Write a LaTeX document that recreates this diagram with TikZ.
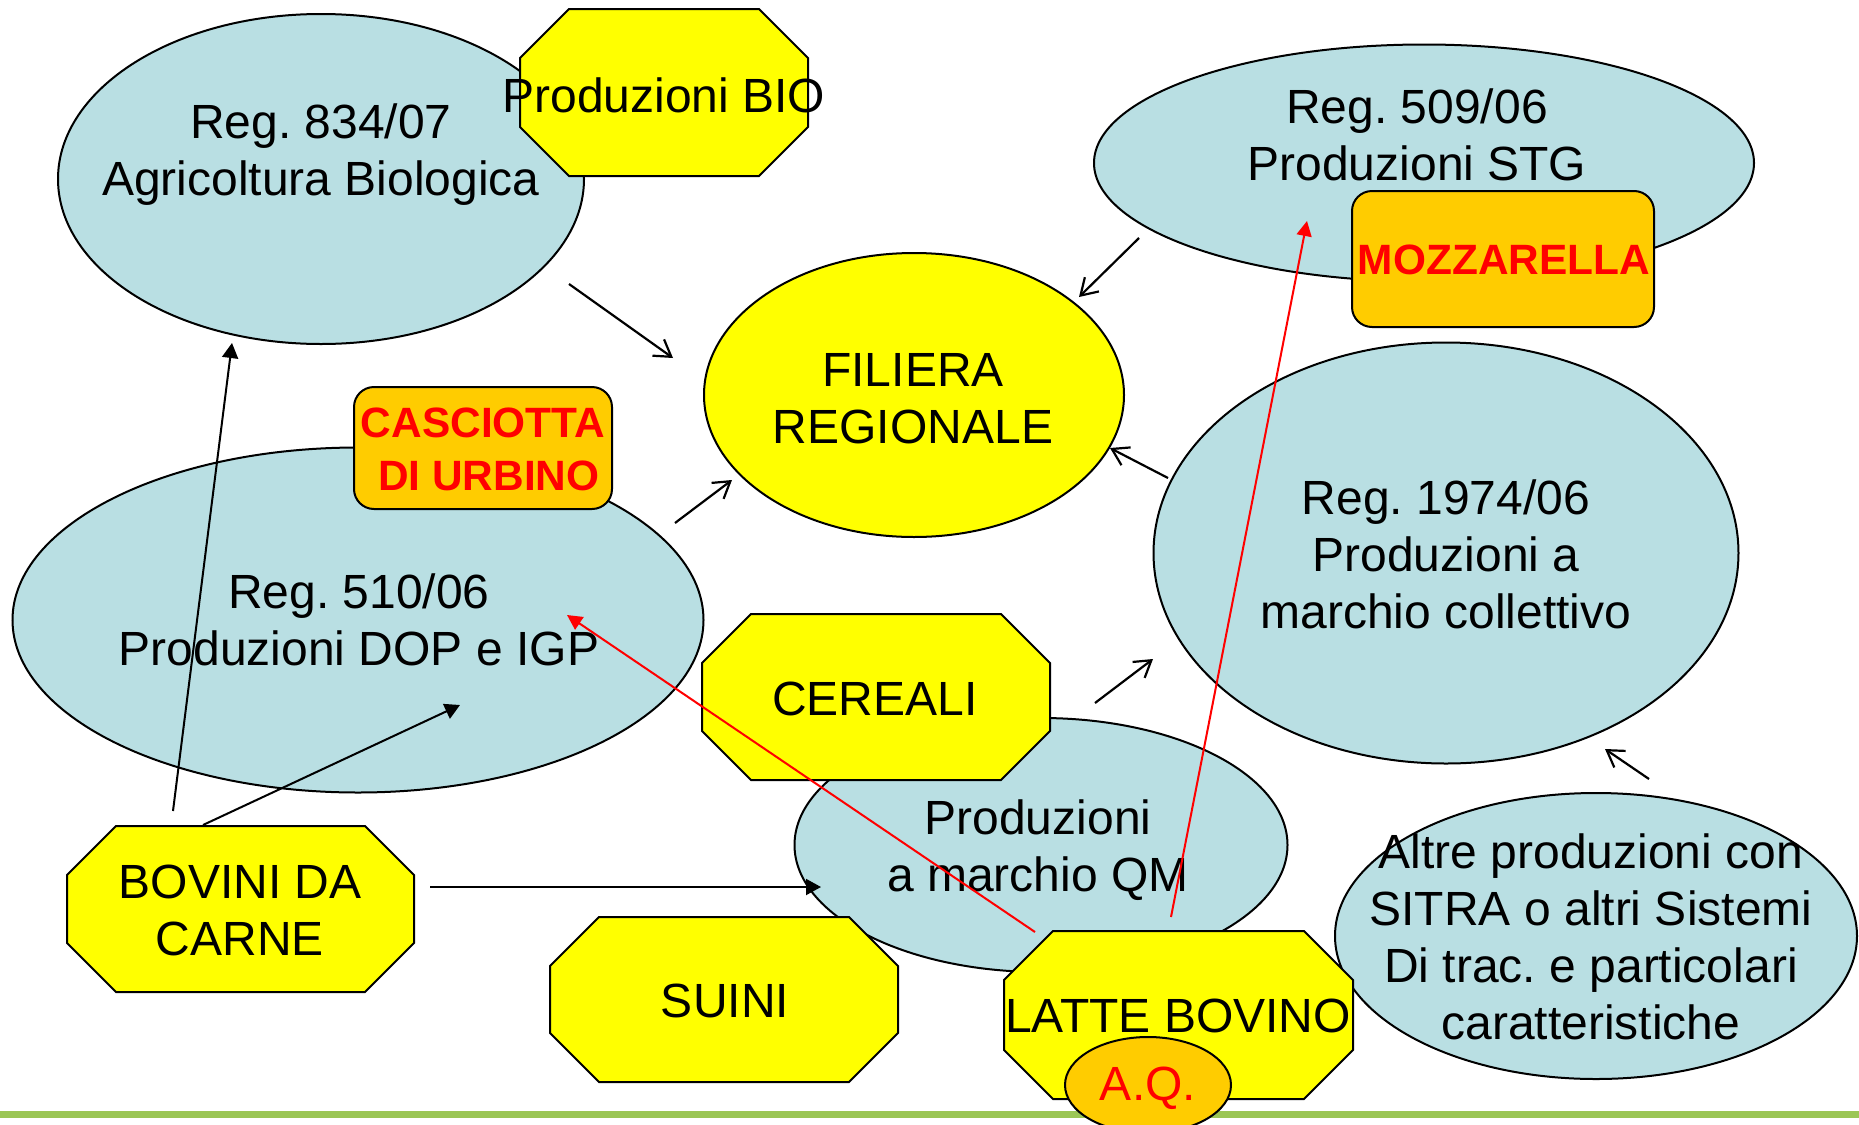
\documentclass[tikz,border=0pt]{standalone}
\usepackage{fontspec}
\setmainfont{Liberation Sans}
\frenchspacing
\usetikzlibrary{shapes.geometric,arrows.meta}
\definecolor{lblue}{RGB}{185,223,227}
\definecolor{yel}{RGB}{255,255,0}
\definecolor{orng}{RGB}{255,204,0}
\definecolor{gline}{RGB}{155,198,85}
\begin{document}
\begin{tikzpicture}[x=0.5pt,y=-0.5pt,
 blueell/.style={ellipse, draw=black, fill=lblue, line width=1pt, inner sep=0pt},
 octo/.style={draw=black, fill=yel, line width=1pt},
 cheese/.style={draw=black, fill=orng, line width=1pt, rounded corners=10pt, inner sep=0pt},
 txt/.style={font=\fontsize{24pt}{28.5pt}\selectfont\frenchspacing, align=center, anchor=base, inner sep=0pt},
 redtxt/.style={font=\fontsize{21.2pt}{26.5pt}\selectfont\bfseries, text=red, align=center, anchor=base, inner sep=0pt},
 openarrow/.style={-{Straight Barb[length=8pt,width=10pt]}, line width=1.1pt},
 fillarrow/.style={-{Triangle[length=7.5pt,width=8pt]}, line width=1pt},
 redarrow/.style={-{Triangle[length=7.5pt,width=7.5pt]}, draw=red, line width=1pt}
]
\useasboundingbox (0,0) rectangle (1859,1125);
% bottom rule
\coordinate (gl) at (0,1114);
\coordinate (gr) at (1859,1114);
\draw[gline, line width=3.5pt] (gl) -- (gr);

% Reg 834/07
\node[blueell, minimum width=263pt, minimum height=165pt] (bio) at (321,179) {};
\node[txt] (biot) at (321,195) {Reg. 834/07\\Agricoltura Biologica};
\draw[octo] (569,9) -- (759,9) -- (808,58) -- (808,127) -- (759,176) -- (569,176) -- (520,127) -- (520,58) -- cycle;
\node[txt] (prodbio) at (664,112) {Produzioni BIO};

% Reg 510/06
\node[blueell, minimum width=345.5pt, minimum height=172.5pt] (dop) at (358,620) {};
\node[txt] (dopt) at (359,665) {Reg. 510/06\\Produzioni DOP e IGP};
\node[cheese, minimum width=129pt, minimum height=61pt] (casc) at (483,448) {};
\node[redtxt] (casct) at (483,490) {CASCIOTTA\\\ DI URBINO};

% Filiera
\node[ellipse, draw=black, fill=yel, line width=1pt, inner sep=0pt, minimum width=210pt, minimum height=142pt] (fil) at (914,395) {};
\node[txt] (filt) at (913,443) {FILIERA\\REGIONALE};

% Reg 509/06
\node[blueell, minimum width=330pt, minimum height=118.5pt] (stg) at (1424,163) {};
\node[txt] (stgt) at (1417,180) {Reg. 509/06\\Produzioni STG};
\node[cheese, minimum width=151pt, minimum height=68pt] (mozz) at (1503,259) {};
\node[redtxt] (mozzt) at (1504,274) {MOZZARELLA};

% Reg 1974/06
\node[blueell, minimum width=292.5pt, minimum height=210.5pt] (coll) at (1446,553) {};
\node[txt] (collt) at (1446,628) {Reg. 1974/06\\Produzioni a\\marchio collettivo};

% QM
\node[blueell, minimum width=246.5pt, minimum height=127pt] (qm) at (1041,845) {};
\node[txt] (qmt) at (1038,891) {Produzioni\\a marchio QM};
\draw[octo] (751,614) -- (1001,614) -- (1050,663) -- (1050,731) -- (1001,780) -- (751,780) -- (702,731) -- (702,663) -- cycle;
\node[txt] (cer) at (875,715) {CEREALI};

% Bovini, Suini
\draw[octo] (116,826) -- (365,826) -- (414,875) -- (414,943) -- (365,992) -- (116,992) -- (67,943) -- (67,875) -- cycle;
\node[txt] (bov) at (240,955) {BOVINI DA\\CARNE};
\draw[octo] (599,917) -- (849,917) -- (898,966) -- (898,1033) -- (849,1082) -- (599,1082) -- (550,1033) -- (550,966) -- cycle;
\node[txt] (sui) at (725,1017) {SUINI};

% Altre produzioni
\node[blueell, minimum width=261pt, minimum height=143pt] (altre) at (1596,936) {};
\node[txt] (altret) at (1591,1039) {Altre produzioni con\\SITRA o altri Sistemi\\Di trac. e particolari\\caratteristiche};

% Latte
\draw[octo] (1053,931) -- (1304,931) -- (1353,980) -- (1353,1050) -- (1304,1099) -- (1053,1099) -- (1004,1050) -- (1004,980) -- cycle;
\node[txt] (latte) at (1178,1032) {LATTE BOVINO};
\node[ellipse, draw=black, fill=orng, line width=1pt, inner sep=0pt, minimum width=83pt, minimum height=48pt] (aq) at (1148,1085) {};
\node[txt, text=red] (aqt) at (1148,1100) {A.Q.};

% arrow end points
\coordinate (a1s) at (569,284);  \coordinate (a1e) at (673,358);
\coordinate (a2s) at (675,523);  \coordinate (a2e) at (732,480);
\coordinate (a3s) at (1139,238); \coordinate (a3e) at (1079,297);
\coordinate (a4s) at (1168,478); \coordinate (a4e) at (1110,448);
\coordinate (a5s) at (1095,703); \coordinate (a5e) at (1153,659);
\coordinate (a6s) at (1649,779); \coordinate (a6e) at (1605,749);
\coordinate (b1s) at (173,811);  \coordinate (b1e) at (232,343);
\coordinate (b2s) at (203,825);  \coordinate (b2e) at (460,705);
\coordinate (b3s) at (430,887);  \coordinate (b3e) at (821,887);
\coordinate (r1s) at (1035,932); \coordinate (r1e) at (567,615);
\coordinate (r2s) at (1171,917); \coordinate (r2e) at (1307,221);

\draw[openarrow] (a1s) -- (a1e);
\draw[openarrow] (a2s) -- (a2e);
\draw[openarrow] (a3s) -- (a3e);
\draw[openarrow] (a4s) -- (a4e);
\draw[openarrow] (a5s) -- (a5e);
\draw[openarrow] (a6s) -- (a6e);
\draw[fillarrow] (b1s) -- (b1e);
\draw[fillarrow] (b2s) -- (b2e);
\draw[fillarrow] (b3s) -- (b3e);
\draw[redarrow] (r1s) -- (r1e);
\draw[redarrow] (r2s) -- (r2e);
\end{tikzpicture}
\end{document}
